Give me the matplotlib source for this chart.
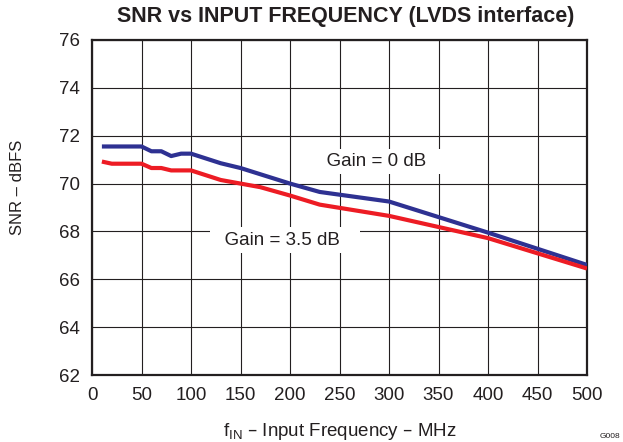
import numpy as np
import matplotlib.pyplot as plt

plt.rcParams['font.family'] = ['Liberation Sans', 'DejaVu Sans']

# data
freq_0db = [10, 50, 60, 70, 80, 90, 100, 130, 150, 200, 230, 300, 400, 500]
snr_0db = [71.55, 71.55, 71.35, 71.35, 71.15, 71.25, 71.25, 70.85, 70.65, 70.0, 69.65, 69.25, 67.95, 66.6]

freq_35db = [10, 20, 50, 60, 70, 80, 100, 130, 150, 170, 200, 230, 300, 400, 500]
snr_35db = [70.92, 70.83, 70.83, 70.65, 70.65, 70.55, 70.55, 70.15, 70.0, 69.85, 69.5, 69.12, 68.65, 67.72, 66.45]

x_ticks = np.arange(0, 501, 50)
y_ticks = np.arange(62, 77, 2)

ink = '#231f20'

fig = plt.figure(figsize=(6.23, 4.42), dpi=100)
# axes box: x 92..587 px, y 40..375 px
ax = fig.add_axes([92 / 623, 1 - 375 / 442, 495 / 623, 335 / 442])

ax.plot(freq_0db, snr_0db, color='#2e3192', lw=3, solid_capstyle='butt', zorder=3)
ax.plot(freq_35db, snr_35db, color='#ed1c24', lw=3, solid_capstyle='butt', zorder=3)

ax.set_xlim(0, 500)
ax.set_ylim(62, 76)
ax.set_xticks(x_ticks)
ax.set_yticks(y_ticks)
ax.tick_params(length=0, labelsize=13.5, labelcolor=ink)
ax.tick_params(axis='x', pad=9)
ax.tick_params(axis='y', pad=8.5)
ax.grid(True, color=ink, lw=0.8)
for s in ax.spines.values():
    s.set_linewidth(1.6)
    s.set_color(ink)

bbox = dict(facecolor='white', edgecolor='none', pad=3)
ax.text(287, 70.92, '  Gain = 0 dB  ', fontsize=13.5, color=ink, ha='center', va='center', bbox=bbox, zorder=2)
ax.text(195, 67.64, '  Gain = 3.5 dB   ', fontsize=13.5, color=ink, ha='center', va='center', bbox=bbox, zorder=2)

ax.set_title('SNR vs INPUT FREQUENCY (LVDS interface)', fontsize=15.5, fontweight='bold', color=ink, pad=13, x=0.512)
ax.set_ylabel('SNR – dBFS', fontsize=12, color=ink)
ax.yaxis.set_label_coords(-0.135, 0.56)
ax.set_xlabel('f$_{\\mathregular{IN}}$ – Input Frequency – MHz', fontsize=13.5, color=ink, labelpad=12)
fig.text(0.995, 0.005, 'G008', fontsize=6, color=ink, ha='right', va='bottom')

fig.savefig('out.png', dpi=100)
